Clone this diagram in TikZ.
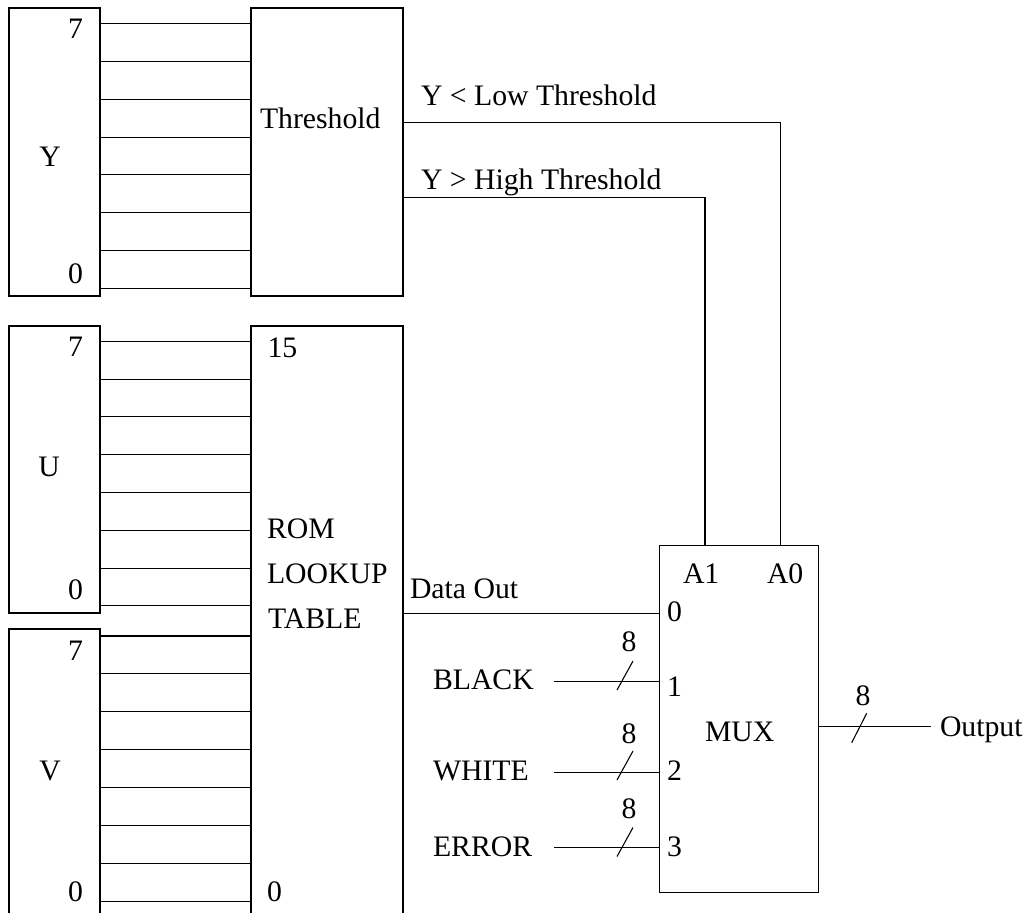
\documentclass[tikz,border=0pt]{standalone}
\usepackage{fontspec}
\setmainfont{Liberation Serif}
\usetikzlibrary{fit,calc}
\begin{document}
\begin{tikzpicture}[x=0.75pt,y=-0.75pt,line width=0.8pt,
  every node/.style={font=\fontsize{22.3}{26}\selectfont, inner sep=0pt, outer sep=0pt},
  blk/.style={draw, fit={#1}, inner sep=0pt},
  openblk/.style={fit={#1}, inner sep=0pt},
  lbl/.style={anchor=base west},
  rlbl/.style={anchor=base east},
  clbl/.style={anchor=base},
  slashmark/.style={line width=0.8pt}]
\useasboundingbox (0,0) rectangle (1029,913);

% blocks
\node[blk={(9,8) (100,296)}] (Y) {};
\node[blk={(251,8) (403,296)}] (T) {};
\node[blk={(9,326) (100,613)}] (U) {};
\node[openblk={(251,326) (403,913)}] (R) {};
\node[openblk={(9,629) (100,913)}] (V) {};
\node[blk={(659.7,545.3) (818.3,892.7)}] (M) {};
\draw (R.south west) -- (R.north west) -- (R.north east) -- (R.south east);
\draw (V.south west) -- (V.north west) -- (V.north east) -- (V.south east);

% Y -> Threshold bus
\foreach \yy in {23.7,61.5,99.3,137.1,174.9,212.7,250.5,288.3}
  \draw (Y.east |- 0,\yy) -- (T.west |- 0,\yy);
% U -> ROM bus
\foreach \yy in {341.3,379.1,416.9,454.7,492.5,530.3,568.1,605.9}
  \draw (U.east |- 0,\yy) -- (R.west |- 0,\yy);
% V -> ROM bus
\foreach \yy in {636,673.9,711.8,749.7,787.6,825.5,863.4,901.3}
  \draw (V.east |- 0,\yy) -- (R.west |- 0,\yy);

% block labels
\node[rlbl] (y7) at (83,39) {7};
\node[clbl] (ylab) at (50,167) {Y};
\node[rlbl] (y0) at (83,283) {0};
\node[lbl] (tlab) at (260,128.5) {Threshold};

\node[rlbl] (u7) at (83,356.7) {7};
\node[clbl] (ulab) at (49,476.7) {U};
\node[rlbl] (u0) at (83,599) {0};

\node[rlbl] (v7) at (83,660) {7};
\node[clbl] (vlab) at (50,780) {V};
\node[rlbl] (v0) at (83,901) {0};

\node[lbl] (r15) at (267.5,357) {15};
\node[lbl] (rrom) at (267,538) {ROM};
\node[lbl] (rlook) at (267,583) {LOOKUP};
\node[lbl] (rtab) at (268,628) {TABLE};
\node[lbl] (r0) at (267,901) {0};

% MUX labels
\node[lbl] (a1lab) at (683,583) {A1};
\node[lbl] (a0lab) at (767,583) {A0};
\node[lbl] (p0) at (667,621.7) {0};
\node[lbl] (p1) at (667,696.7) {1};
\node[lbl] (p2) at (667,780) {2};
\node[lbl] (p3) at (667,856.7) {3};
\node[lbl] (muxlab) at (705,741.7) {MUX};

% threshold outputs to MUX select
\coordinate (a1) at (705,545.3);
\coordinate (a0) at (780.7,545.3);
\draw (T.east |- 0,122.3) -| (a0);
\draw (T.east |- 0,197.7) -| (a1);
\node[lbl] (lowlab) at (421,106) {Y < Low Threshold};
\node[lbl] (highlab) at (421,190) {Y > High Threshold};

% data out
\draw (R.east |- 0,613.3) -- (M.west |- 0,613.3);
\node[lbl] (dout) at (410,598) {Data Out};

% constant inputs
\node[lbl] (black) at (433,689) {BLACK};
\node[lbl] (white) at (433,780) {WHITE};
\node[lbl] (error) at (433,856) {ERROR};
\coordinate (b1) at (554,681.7);
\coordinate (b2) at (554,772.3);
\coordinate (b3) at (554,847.7);
\draw (b1) -- (M.west |- b1);
\draw (b2) -- (M.west |- b2);
\draw (b3) -- (M.west |- b3);
\coordinate (s1) at (625,675.5);
\coordinate (s2) at (625,765.5);
\coordinate (s3) at (625,842);
\foreach \s in {s1,s2,s3}
  \draw[slashmark] ($(\s)+(-8,14.5)$) -- ($(\s)+(8,-14.5)$);
\node[clbl] (w1) at (629,651.7) {8};
\node[clbl] (w2) at (629,743) {8};
\node[clbl] (w3) at (629,818) {8};

% output
\coordinate (oend) at (931,726.7);
\draw (M.east |- oend) -- (oend);
\coordinate (so) at (859.2,728);
\draw[slashmark] ($(so)+(-7.5,14.7)$) -- ($(so)+(7.5,-14.7)$);
\node[clbl] (wo) at (863,705) {8};
\node[lbl] (outlab) at (940,736) {Output};
\end{tikzpicture}
\end{document}
